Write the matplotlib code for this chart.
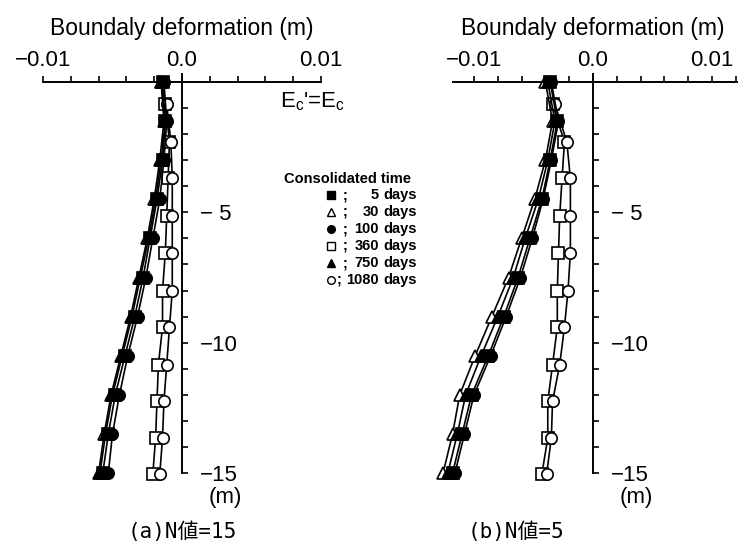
import numpy as np
import matplotlib
matplotlib.use('Agg')
import matplotlib.pyplot as plt

plt.rcParams['font.family'] = ['Liberation Sans', 'DejaVu Sans']
plt.rcParams['axes.unicode_minus'] = True

# ---------------- data ----------------
legend_title = 'Consolidated time'
series_days = ['5', '30', '100', '360', '750', '1080']

depth_main = [0, -1.5, -3, -4.5, -6, -7.5, -9, -10.5, -12, -13.5, -15]
depth_open = [-0.85, -2.3, -3.7, -5.15, -6.55, -8.0, -9.4, -10.85, -12.25, -13.65, -15.05]

# panel (a) N=15
a_5 = [-0.0014, -0.0012, -0.0014, -0.0018, -0.0023, -0.0028, -0.0034, -0.0041, -0.0048, -0.0053, -0.0057]
a_30 = [-0.0015, -0.0013, -0.0016, -0.0020, -0.0025, -0.0031, -0.0037, -0.0044, -0.0051, -0.0056, -0.0060]
a_100 = [-0.0013, -0.0011, -0.0013, -0.0016, -0.0021, -0.0026, -0.0032, -0.0039, -0.0045, -0.0050, -0.0053]
a_750 = [-0.0015, -0.0012, -0.0015, -0.0019, -0.0024, -0.0030, -0.0036, -0.0043, -0.0050, -0.0055, -0.0059]
a_360 = [-0.0012, -0.0009, -0.0010, -0.0011, -0.0012, -0.0014, -0.0014, -0.0017, -0.0018, -0.0019, -0.0021]
a_1080 = [-0.0011, -0.0008, -0.0007, -0.0007, -0.0007, -0.0007, -0.0009, -0.0011, -0.0013, -0.0014, -0.0016]

# panel (b) N=5
b_5 = [-0.0036, -0.0030, -0.0036, -0.0043, -0.0053, -0.0063, -0.0075, -0.0088, -0.0102, -0.0110, -0.0118]
b_30 = [-0.0040, -0.0034, -0.0040, -0.0049, -0.0060, -0.0071, -0.0085, -0.0099, -0.0112, -0.0118, -0.0126]
b_100 = [-0.0035, -0.0029, -0.0035, -0.0042, -0.0051, -0.0061, -0.0073, -0.0086, -0.0100, -0.0108, -0.0116]
b_750 = [-0.0038, -0.0032, -0.0038, -0.0046, -0.0057, -0.0067, -0.0080, -0.0094, -0.0107, -0.0114, -0.0122]
b_360 = [-0.0034, -0.0024, -0.0026, -0.0028, -0.0029, -0.0030, -0.0030, -0.0034, -0.0038, -0.0038, -0.0043]
b_1080 = [-0.0032, -0.0022, -0.0019, -0.0019, -0.0019, -0.0021, -0.0024, -0.0028, -0.0034, -0.0035, -0.0039]

x_ticks = [-0.01, 0.0, 0.01]
x_ticklabels = ['\u22120.01', '0.0', '0.01']
y_ticks = [-5, -10, -15]
y_ticklabels = ['\u2212 5', '\u221210', '\u221215']
xlabel = 'Boundaly deformation (m)'
captions = ['(a)N値=15', '(b)N値=5']

# ---------------- styles ----------------
styles = {
    '5': dict(marker='s', mfc='black'),
    '30': dict(marker='^', mfc='white'),
    '100': dict(marker='o', mfc='black'),
    '360': dict(marker='s', mfc='white'),
    '750': dict(marker='^', mfc='black'),
    '1080': dict(marker='o', mfc='white'),
}
draw_order = ['360', '1080', '30', '750', '100', '5']

W, H = 749, 555
fig = plt.figure(figsize=(W / 100, H / 100), dpi=100)

Y0 = 82.0       # pixel row of depth 0
YS = 26.07      # pixels per metre
YLIM = (-16.5, 0.6)


def make_axes(x0, xs, xlim):
    left = x0 + xlim[0] * xs
    right = x0 + xlim[1] * xs
    top = Y0 - YLIM[1] * YS
    bot = Y0 - YLIM[0] * YS
    ax = fig.add_axes([left / W, 1 - bot / H, (right - left) / W, (bot - top) / H])
    ax.set_xlim(*xlim)
    ax.set_ylim(*YLIM)
    ax.patch.set_visible(False)
    return ax


def setup(ax, xbounds, minor_x, caption_x, caption):
    for s in ['left', 'bottom']:
        ax.spines[s].set_visible(False)
    ax.spines['top'].set_position(('data', 0))
    ax.spines['top'].set_bounds(*xbounds)
    ax.spines['right'].set_position(('data', 0))
    ax.spines['right'].set_bounds(-15, 0.3)
    for s in ['top', 'right']:
        ax.spines[s].set_linewidth(1.4)
    ax.set_xticks(x_ticks, x_ticklabels)
    ax.set_xticks(minor_x, minor=True)
    ax.set_yticks(y_ticks, y_ticklabels)
    ax.set_yticks([v for v in range(-14, 0) if v % 5 != 0], minor=True)
    ax.tick_params(axis='x', which='both', top=True, bottom=False, labeltop=True,
                   labelbottom=False, direction='out', length=4, width=1.2,
                   pad=4, labelsize=16)
    ax.tick_params(axis='y', which='both', right=True, left=False, labelright=True,
                   labelleft=False, direction='out', length=4, width=1.2,
                   pad=9, labelsize=16)
    ax.text(0, 2.05, xlabel, ha='center', va='center', fontsize=16.5, clip_on=False)
    ax.annotate('(m)', xy=(0, -15), xytext=(43, -24), textcoords='offset pixels',
                ha='center', va='center', fontsize=16)
    fig.text(caption_x / W, 1 - 532 / H, caption, ha='center', va='center',
             fontsize=15, family=['DejaVu Sans Mono', 'Noto Sans CJK JP'])


def draw(ax, data):
    for key in draw_order:
        depth = depth_open if key in ('360', '1080') else depth_main
        st = styles[key]
        ax.plot(data[key], depth, color='black', lw=1.2, marker=st['marker'],
                mfc=st['mfc'], mec='black', mew=1.2, ms=8.2, clip_on=False)


ax_a = make_axes(182, 13900, (-0.012, 0.012))
setup(ax_a, (-0.01, 0.01), [-0.008, -0.006, -0.004, -0.002, 0.002, 0.004, 0.006, 0.008],
      182, captions[0])
draw(ax_a, {'5': a_5, '30': a_30, '100': a_100, '360': a_360, '750': a_750, '1080': a_1080})
ax_a.text(0.0094, -0.75, r"E$_\mathregular{c}$'=E$_\mathregular{c}$", ha='center',
          va='center', fontsize=16)

ax_b = make_axes(593, 11900, (-0.0135, 0.013))
setup(ax_b, (-0.0118, 0.0121),
      [-0.008, -0.006, -0.004, -0.002, 0.002, 0.004, 0.006, 0.008, 0.012],
      516, captions[1])
draw(ax_b, {'5': b_5, '30': b_30, '100': b_100, '360': b_360, '750': b_750, '1080': b_1080})

# ---------------- legend (pixel overlay) ----------------
lg = fig.add_axes([0, 0, 1, 1])
lg.set_xlim(0, W)
lg.set_ylim(H, 0)
lg.axis('off')
lg.patch.set_visible(False)
lg.text(348, 179, legend_title, ha='center', va='center', fontsize=10.5, weight='bold')
for i, key in enumerate(series_days):
    y = 195 + i * 17.0
    st = styles[key]
    lg.plot([331], [y], marker=st['marker'], mfc=st['mfc'], mec='black', mew=1.0,
            ms=5.5, ls='none')
    semi_x = 339 if len(key) > 3 else 345
    lg.text(semi_x, y, ';', ha='center', va='center', fontsize=10.5, weight='bold')
    lg.text(379, y, key, ha='right', va='center', fontsize=10.5, weight='bold')
    lg.text(383, y, 'days', ha='left', va='center', fontsize=10.5, weight='bold')

fig.savefig('out.png', dpi=100)
